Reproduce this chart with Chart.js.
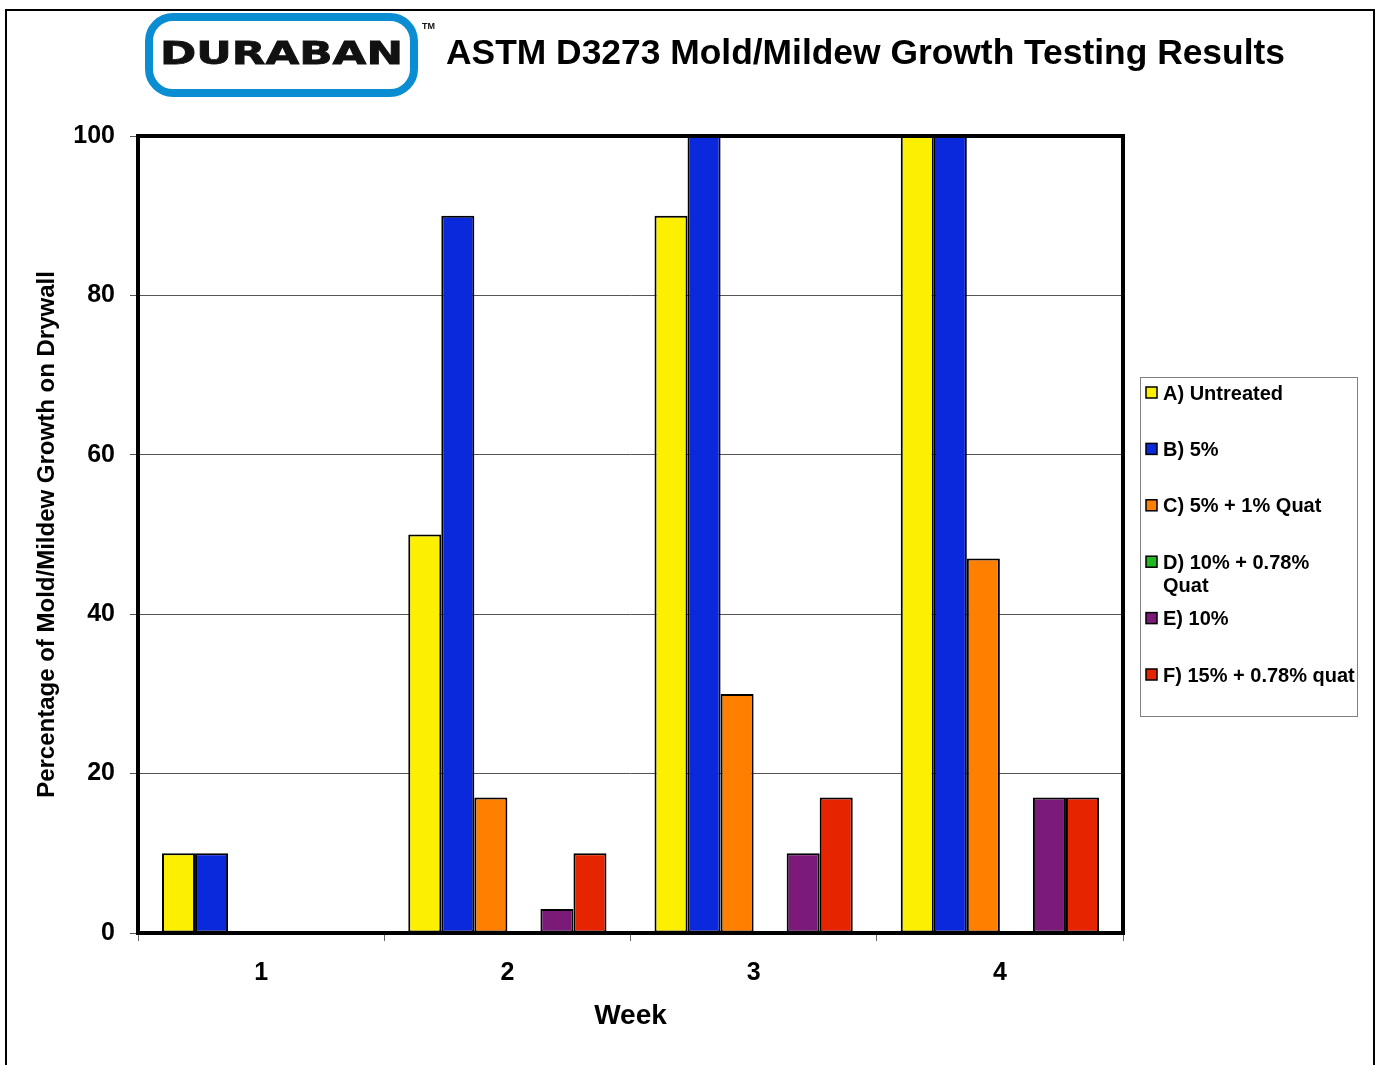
<!DOCTYPE html>
<html>
<head>
<meta charset="utf-8">
<title>ASTM D3273 Mold/Mildew Growth Testing Results</title>
<script src="https://cdn.jsdelivr.net/npm/chart.js@4.4.1/dist/chart.umd.min.js"></script>
<style>
    html, body { margin: 0; padding: 0; background: #fff; }
    #wrap { width: 1377px; height: 1065px; }
</style>
</head>
<body>
<div id="wrap"><canvas id="mold-chart" width="1377" height="1065"></canvas></div>
<script>
// Chart data
const weeks = ["1", "2", "3", "4"];
const seriesLabels = ["A) Untreated", "B) 5%", "C) 5% + 1% Quat", "D) 10% + 0.78%\nQuat", "E) 10%", "F) 15% + 0.78% quat"];
const untreated = [10, 50, 90, 100];
const fivePct = [10, 90, 100, 100];
const fivePctQuat = [0, 17, 30, 47];
const tenPctQuat = [0, 0, 0, 0];
const tenPct = [0, 3, 10, 17];
const fifteenPctQuat = [0, 10, 17, 17];
const yTicks = [0, 20, 40, 60, 80, 100];
const seriesColors = ["#fcf000", "#0a28dc", "#ff7f00", "#22b822", "#7b1a78", "#e62500"];

const FONT = "'Liberation Sans', Arial, sans-serif";

document.addEventListener("DOMContentLoaded", () => {
    const ctx = document.getElementById("mold-chart").getContext("2d");
    const values = [untreated, fivePct, fivePctQuat, tenPctQuat, tenPct, fifteenPctQuat];

    // page frame, logo and heading
    const decorPlugin = {
        id: "decor",
        beforeDraw(chart) {
            const c = chart.ctx;
            c.save();
            c.fillStyle = "#fff";
            c.fillRect(0, 0, chart.width, chart.height);

            // page border
            c.strokeStyle = "#000";
            c.lineWidth = 2;
            c.beginPath();
            c.moveTo(6, chart.height);
            c.lineTo(6, 10);
            c.lineTo(1374, 10);
            c.lineTo(1374, chart.height);
            c.stroke();

            // logo frame
            c.strokeStyle = "#0b8dd1";
            c.lineWidth = 8;
            c.fillStyle = "#fff";
            c.beginPath();
            c.roundRect(149, 17, 265, 76, 24);
            c.fill();
            c.stroke();

            // logo word, stretched wide
            c.fillStyle = "#111";
            c.font = "bold 32px 'DejaVu Sans'";
            c.textBaseline = "alphabetic";
            const w = c.measureText("DURABAN").width;
            c.save();
            c.translate(160, 64);
            c.scale(243 / w, 1);
            c.fillText("DURABAN", 0, 0);
            c.strokeStyle = "#111";
            c.lineWidth = 0.8;
            c.strokeText("DURABAN", 0, 0);
            c.restore();

            c.font = "bold 9px " + FONT;
            c.fillText("TM", 422, 29);

            // heading
            c.font = "bold 35.4px " + FONT;
            c.fillStyle = "#000";
            c.fillText("ASTM D3273 Mold/Mildew Growth Testing Results", 446, 64);
            c.restore();
        },
        afterDatasetsDraw(chart) {
            const {left, top, right, bottom} = chart.chartArea;
            const c = chart.ctx;
            c.save();
            c.strokeStyle = "#000";
            c.lineWidth = 4;
            c.strokeRect(left, top, right - left, bottom - top);
            c.restore();
        },
        afterDraw(chart) {
            // legend box on the right
            const c = chart.ctx;
            c.save();
            c.strokeStyle = "#808080";
            c.lineWidth = 1;
            c.strokeRect(1140.5, 377.5, 217, 339);
            c.font = "bold 20px " + FONT;
            c.textBaseline = "middle";
            chart.data.datasets.forEach((ds, i) => {
                const y = 393 + i * 56.4;
                c.fillStyle = ds.backgroundColor;
                c.fillRect(1146, y - 6, 11, 11);
                c.strokeStyle = "#000";
                c.lineWidth = 1.5;
                c.strokeRect(1146, y - 6, 11, 11);
                c.fillStyle = "#000";
                ds.label.split("\n").forEach((line, k) => {
                    c.fillText(line, 1163, y + 1 + k * 23);
                });
            });
            c.restore();
        }
    };

    new Chart(ctx, {
        type: "bar",
        data: {
            labels: weeks,
            datasets: values.map((v, i) => ({
                label: seriesLabels[i],
                data: v,
                backgroundColor: seriesColors[i],
                borderColor: "#000",
                borderWidth: 2,
                borderSkipped: false,
                barPercentage: 1,
                categoryPercentage: 0.805,
            })),
        },
        options: {
            responsive: false,
            animation: false,
            layout: { padding: { left: 0, top: 136, right: 254, bottom: 0 } },
            plugins: {
                legend: { display: false },
                tooltip: { enabled: false },
            },
            scales: {
                x: {
                    border: { display: false },
                    grid: { drawOnChartArea: false, drawTicks: true, tickLength: 8, tickColor: "#666", offset: true },
                    ticks: { color: "#000", font: { family: FONT, size: 25, weight: "bold" }, padding: 17 },
                    title: { display: true, text: "Week", color: "#000", font: { family: FONT, size: 28, weight: "bold" }, padding: { top: 0, bottom: 32 } },
                    afterFit: (s) => { s.height = 132; },
                },
                y: {
                    min: 0,
                    max: 100,
                    border: { display: false },
                    grid: { color: "#555", lineWidth: 1, tickLength: 8, tickColor: "#555" },
                    afterBuildTicks: (s) => { s.ticks = yTicks.map((v) => ({ value: v })); },
                    ticks: { color: "#000", font: { family: FONT, size: 25, weight: "bold" }, padding: 15 },
                    title: { display: true, text: "Percentage of Mold/Mildew Growth on Drywall", color: "#000", font: { family: FONT, size: 24, weight: "bold" }, padding: { top: 33, bottom: 0 } },
                    afterFit: (s) => { s.width = 138; },
                },
            },
        },
        plugins: [decorPlugin],
    });
});
</script>
</body>
</html>
